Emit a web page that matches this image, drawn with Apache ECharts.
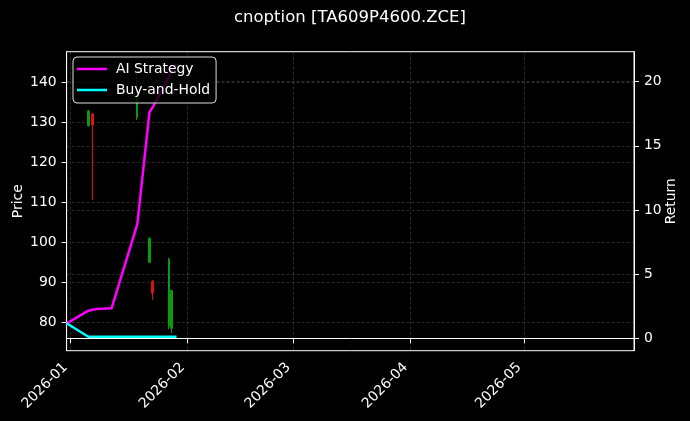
<!DOCTYPE html>
<html><head><meta charset="utf-8">
<script src="https://cdn.jsdelivr.net/npm/echarts@6/dist/echarts.min.js"></script>
<style>html,body{margin:0;padding:0;background:#000}#c{width:690px;height:421px}</style>
</head><body><div id="c"></div>
<script>
// ---- data ----
const lineTimes = ['2025-12-31 00:00','2026-01-05 18:00','2026-01-06 22:00','2026-01-08 01:00','2026-01-11 22:00','2026-01-18 17:00','2026-01-21 22:00','2026-01-22 19:00','2026-01-27 02:00','2026-01-27 20:00','2026-01-29 02:00'];
const aiReturn  = [1.15, 2.15, 2.22, 2.28, 2.34, 8.9, 17.6, 18.0, 20.4, 20.8, 21.4];
const bhReturn  = [1.17, 0.12, 0.12, 0.12, 0.12, 0.12, 0.12, 0.12, 0.12, 0.12, 0.12];

const candleTimes = ['2026-01-05 20:00','2026-01-06 22:00','2026-01-18 14:00','2026-01-21 22:00','2026-01-22 19:00','2026-01-27 02:00','2026-01-27 20:00'];
const candleOpen  = [129.2, 132.1, 131.2,  95.0, 90.2, 79.0, 78.5];
const candleClose = [132.8, 129.3, 137.0, 101.0, 87.3, 95.8, 88.0];
const candleLow   = [128.9, 110.6, 130.6,  94.8, 85.6, 78.3, 77.3];
const candleHigh  = [133.1, 132.3, 142.3, 101.3, 90.6, 96.1, 88.1];

const xTickDates  = ['2026-01-01','2026-02-01','2026-03-01','2026-04-01','2026-05-01'];
const xRange      = ['2025-12-31 00:00','2026-05-30 02:00'];
const priceTicks  = [80, 90, 100, 110, 120, 130, 140];
const priceRange  = [72.9, 147.65];
const returnTicks = [0, 5, 10, 15, 20];
const returnRange = [-0.97, 22.33];

// ---- helpers ----
function toMs(s){
  const parts = s.split(' ');
  const [Y,M,D] = parts[0].split('-').map(Number);
  const [h,m] = (parts[1]||'00:00').split(':').map(Number);
  return Date.UTC(Y, M-1, D, h, m);
}
function fmtMonth(v){
  const d = new Date(v);
  return d.getUTCFullYear() + '-' + String(d.getUTCMonth()+1).padStart(2,'0');
}
const xTicks = xTickDates.map(toMs);
const aiData = lineTimes.map((t,i)=>[toMs(t), aiReturn[i]]);
const bhData = lineTimes.map((t,i)=>[toMs(t), bhReturn[i]]);
const candleData = candleTimes.map((t,i)=>[toMs(t), candleOpen[i], candleClose[i], candleLow[i], candleHigh[i]]);

const FONT = 'DejaVu Sans';
const FS = 13.9;
const gridLine = {show:true, lineStyle:{color:'rgba(150,150,150,0.4)', type:[3,2], width:0.7}};

const chart = echarts.init(document.getElementById('c'), null, {renderer:'canvas'});
chart.setOption({
  backgroundColor:'#000',
  animation:false,
  textStyle:{fontFamily:FONT},
  title:{
    text:'cnoption [TA609P4600.ZCE]',
    left:234, top:9, padding:0,
    textStyle:{color:'#fff', fontSize:16.5, fontWeight:'normal', fontFamily:FONT}
  },
  legend:{
    orient:'vertical', left:73, top:57,
    padding:[5,6,6,4], itemGap:7,
    backgroundColor:'rgba(0,0,0,0.8)', borderColor:'#ddd', borderWidth:1, borderRadius:4,
    icon:'rect', itemWidth:30, itemHeight:2.5,
    textStyle:{color:'#fff', fontSize:FS, fontFamily:FONT, padding:[0,0,0,4]},
    data:['AI Strategy','Buy-and-Hold']
  },
  grid:{left:66.6, right:56, top:51.7, bottom:70.3, containLabel:false, outerBoundsMode:'none',
        show:true, borderColor:'#fff', borderWidth:1, backgroundColor:'transparent'},
  xAxis:{
    type:'value', min:toMs(xRange[0]), max:toMs(xRange[1]),
    axisLine:{show:true, lineStyle:{color:'#fff', width:1}},
    axisTick:{show:true, inside:false, length:5, customValues:xTicks, lineStyle:{color:'#fff'}},
    axisLabel:{show:true, customValues:xTicks, rotate:45, margin:9.5, padding:[0,7,0,0], color:'#fff', fontSize:FS, fontFamily:FONT, formatter:fmtMonth},
    splitLine:gridLine
  },
  yAxis:[{
    type:'value', position:'left', min:priceRange[0], max:priceRange[1],
    name:'Price', nameLocation:'middle', nameGap:41, nameRotate:90, nameMoveOverlap:false,
    nameTextStyle:{color:'#fff', fontSize:FS, fontFamily:FONT},
    axisLine:{show:true, lineStyle:{color:'#fff'}},
    axisTick:{show:true, inside:false, length:5, customValues:priceTicks, lineStyle:{color:'#fff'}},
    axisLabel:{customValues:priceTicks, color:'#fff', fontSize:FS, fontFamily:FONT, margin:10},
    splitLine:gridLine
  },{
    type:'value', position:'right', min:returnRange[0], max:returnRange[1],
    name:'Return', nameLocation:'middle', nameGap:30.5, nameRotate:90, nameMoveOverlap:false,
    nameTextStyle:{color:'#fff', fontSize:FS, fontFamily:FONT},
    axisLine:{show:true, lineStyle:{color:'#fff'}},
    axisTick:{show:true, inside:false, length:5, customValues:returnTicks, lineStyle:{color:'#fff'}},
    axisLabel:{customValues:returnTicks, color:'#fff', fontSize:FS, fontFamily:FONT, margin:10},
    splitLine:gridLine
  }],
  series:[{
    name:'Price', type:'candlestick', xAxisIndex:0, yAxisIndex:0,
    barWidth:2.2, z:2,
    encode:{x:0, y:[1,2,3,4]},
    itemStyle:{color:'#0b9a0b', color0:'#e01010', borderColor:'#0b9a0b', borderColor0:'#e01010', borderWidth:1},
    data:candleData
  },{
    name:'AI Strategy', type:'line', xAxisIndex:0, yAxisIndex:1,
    showSymbol:false, symbol:'none', z:3,
    lineStyle:{color:'#ff00ff', width:2.5}, itemStyle:{color:'#ff00ff'},
    data:aiData
  },{
    name:'Buy-and-Hold', type:'line', xAxisIndex:0, yAxisIndex:1,
    showSymbol:false, symbol:'none', z:3,
    lineStyle:{color:'#00ffff', width:2.5}, itemStyle:{color:'#00ffff'},
    data:bhData
  }]
});
</script>
</body></html>
